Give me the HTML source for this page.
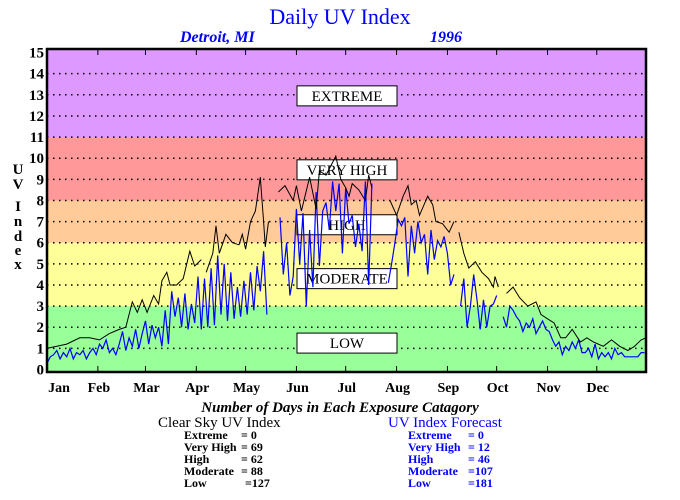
<!DOCTYPE html>
<html><head><meta charset="utf-8"><style>
html,body{margin:0;padding:0;background:#fff;}
svg{display:block;font-family:"Liberation Serif",serif;}
</style></head><body>
<svg id="chart" width="680" height="500" viewBox="0 0 680 500">
<text x="340" y="24" text-anchor="middle" font-size="22" fill="#0000ff">Daily UV Index</text>
<text x="180" y="42" font-size="16" font-weight="bold" font-style="italic" fill="#0000ff">Detroit, MI</text>
<text x="430" y="42" font-size="16" font-weight="bold" font-style="italic" fill="#0000ff">1996</text>
<g id="bands"></g>
<g id="grid"></g>
<g id="labels"></g>
<g id="series"></g>
<g id="axes"></g>
<g font-size="15" font-weight="bold" text-anchor="middle">
<text x="18" y="174">U</text><text x="18" y="189">V</text><text x="18" y="211">I</text><text x="18" y="226">n</text><text x="18" y="241">d</text><text x="18" y="255">e</text><text x="18" y="269">x</text>
</g>
<text x="340" y="412" text-anchor="middle" font-size="15" font-style="italic" font-weight="bold">Number of Days in Each Exposure Catagory</text>
<g>
<text x="158" y="427" font-size="15">Clear Sky UV Index</text>
<g font-size="12" font-weight="bold">
<text x="184" y="439">Extreme</text><text x="241" y="439">=    0</text>
<text x="184" y="451">Very High</text><text x="241" y="451">=  69</text>
<text x="184" y="463">High</text><text x="241" y="463">=  62</text>
<text x="184" y="475">Moderate</text><text x="241" y="475">=  88</text>
<text x="184" y="487">Low</text><text x="245" y="487">=127</text>
</g></g>
<g fill="#0000ff">
<text x="388" y="427" font-size="15">UV Index Forecast</text>
<g font-size="12" font-weight="bold">
<text x="408" y="439">Extreme</text><text x="468" y="439">=    0</text>
<text x="408" y="451">Very High</text><text x="468" y="451">=  12</text>
<text x="408" y="463">High</text><text x="468" y="463">=  46</text>
<text x="408" y="475">Moderate</text><text x="468" y="475">=107</text>
<text x="408" y="487">Low</text><text x="468" y="487">=181</text>
</g></g>
</svg>
<script>
const yTicks = [0,1,2,3,4,5,6,7,8,9,10,11,12,13,14,15];
const monthLabels = ["Jan","Feb","Mar","Apr","May","Jun","Jul","Aug","Sep","Oct","Nov","Dec"];
const monthStartDays = [0,31,60,91,121,152,182,213,244,274,305,335];
const bandNames = ["LOW","MODERATE","HIGH","VERY HIGH","EXTREME"];
const bandLows = [0,3,6,8,11];
const bandHighs = [3,6,8,11,15];
const bandLabelValues = [1.25,4.3,6.85,9.45,12.95];
const clearDays = [0,6,12,20,26,32,38,44,48,52,55,58,61,65,68,70,73,75,79,83,87,90,94,95,97,101,103,105,109,113,117,119,121,124,127,130,132,133,135,136,141,145,150,152,155,160,164,166,170,174,176,179,182,184,186,190,194,196,198,199,209,213,217,220,222,225,227,232,235,237,241,245,248,249,251,254,257,261,265,269,272,273,275,276,280,284,288,293,298,301,305,309,313,316,320,325,329,333,339,344,349,354,358,362,365];
const clearVals = [1.0,1.1,1.2,1.5,1.5,1.4,1.7,1.9,2.0,3.2,2.7,3.3,2.7,3.5,3.1,4.2,4.6,4.0,4.0,4.3,5.6,4.9,5.2,null,4.6,5.5,6.8,5.5,6.4,6.0,5.9,6.4,5.7,7.0,7.5,9.1,7.0,5.8,7.0,null,8.4,8.7,8.0,8.7,7.5,9.1,7.6,9.4,9.2,9.8,10.1,9.0,8.6,8.2,8.8,8.5,8.0,9.2,8.6,null,8.0,7.3,8.2,8.7,7.8,8.0,7.3,8.2,7.8,7.0,6.9,6.5,7.0,null,6.5,5.5,4.8,5.1,4.6,4.3,3.9,4.4,3.9,null,3.6,3.9,3.4,3.0,3.2,2.6,2.4,2.2,1.5,1.5,1.9,1.3,1.5,1.3,1.1,1.4,1.1,0.9,1.1,1.4,1.5];
const forecastVals = [0.3,0.6,0.7,0.9,0.5,0.8,0.6,1.0,0.5,0.8,0.7,0.9,0.5,0.8,1.0,0.7,
1.2,1.0,1.4,0.8,1.0,0.7,1.2,1.8,0.9,1.5,1.1,1.9,1.0,1.7,
2.3,1.2,2.1,1.5,2.0,1.1,2.8,1.2,3.7,2.5,3.4,2.0,3.6,1.9,3.1,2.2,
4.4,1.9,4.3,2.0,4.8,2.1,5.4,2.6,5.0,2.3,4.6,2.4,3.9,2.5,4.2,
2.6,4.6,2.8,4.9,3.7,5.6,2.6,
null,null,null,
7.2,4.5,6.0,3.5,4.4,7.6,5.0,7.4,3.0,6.6,3.9,8.4,4.9,7.5,7.9,6.6,8.9,7.5,8.8,5.5,8.6,6.9,7.3,5.8,6.9,5.6,8.9,4.0,8.8,
null,null,null,null,
4.1,5.0,6.0,7.1,6.8,7.2,4.4,6.8,5.5,7.0,6.0,6.4,4.5,6.6,5.2,6.1,5.8,6.3,5.5,4.0,4.5,
null,
3.0,4.3,2.0,3.0,4.5,3.3,1.9,3.3,2.0,3.0,3.1,3.5,
null,
2.5,2.0,3.0,2.8,2.5,2.3,1.8,2.2,2.0,2.4,1.7,2.0,2.3,1.9,1.8,1.4,1.1,1.3,0.7,1.1,0.9,1.3,1.0,1.4,0.8,0.8,1.0,0.6,1.2,0.5,0.8,0.6,0.8,0.5,1.0,0.7,0.8,0.6,0.6,0.6,0.6,0.6,0.8,0.8];
const bandColors = ["#99ff99","#ffff99","#ffcc99","#ff9999","#dd99ff"];

const NS = "http://www.w3.org/2000/svg";
const X0 = 47, X1 = 646, Y0v = 369.5, PXU = 21.13, BOTTOM = 372, TOP = 49;
function xScale(d){ return X0 + d * (X1 - X0) / 365; }
function yScale(v){ return Y0v - v * PXU; }
function mk(tag, attrs, parent){ const e = document.createElementNS(NS, tag); for (const k in attrs) e.setAttribute(k, attrs[k]); parent.appendChild(e); return e; }

const bands = document.getElementById('bands');
bandLows.forEach((lo, i) => {
  const top = i === bandLows.length - 1 ? TOP : yScale(bandHighs[i]);
  const bot = i === 0 ? BOTTOM : yScale(lo);
  const r = mk('rect', {x: X0, y: top, width: X1 - X0, height: bot - top, fill: bandColors[i]}, bands);
  
  
});

const grid = document.getElementById('grid');
yTicks.forEach(t => {
  if (t > 0 && t < 15) {
    const l = mk('line', {x1: X0, x2: X1, y1: yScale(t), y2: yScale(t), stroke: '#000', 'stroke-width': 1.5, 'stroke-dasharray': '1.5 4.5'}, grid);
    
    
  }
});

const labels = document.getElementById('labels');
bandNames.forEach((n, i) => {
  const cy = yScale(bandLabelValues[i]);
  const r = mk('rect', {x: 297, y: cy - 10, width: 100, height: 20, fill: '#fff', stroke: '#000', 'stroke-width': 1}, labels);
  
  
  const t = mk('text', {x: 347, y: cy + 5, 'text-anchor': 'middle', 'font-size': 15}, labels);
  t.textContent = n;
  
  
});

function buildPath(days, vals){
  let d = '', pen = false;
  for (let i = 0; i < vals.length; i++) {
    if (vals[i] === null) { pen = false; continue; }
    d += (pen ? 'L' : 'M') + xScale(days[i]).toFixed(1) + ' ' + yScale(vals[i]).toFixed(1);
    pen = true;
  }
  return d;
}
const series = document.getElementById('series');
const fDays = forecastVals.map((v, i) => i * 2);
const pf = mk('path', {d: buildPath(fDays, forecastVals), fill: 'none', stroke: '#0000ff', 'stroke-width': 1.2}, series);


const pc = mk('path', {d: buildPath(clearDays, clearVals), fill: 'none', stroke: '#000', 'stroke-width': 1}, series);



const axes = document.getElementById('axes');
const fr = mk('rect', {x: X0, y: TOP, width: X1 - X0, height: BOTTOM - TOP, fill: 'none', stroke: '#000', 'stroke-width': 2.5}, axes);


yTicks.forEach(t => {
  const tx = mk('text', {x: 44, y: yScale(t) + 5, 'text-anchor': 'end', 'font-size': 15, 'font-weight': 'bold'}, axes);
  tx.textContent = String(t);
  
  
});
monthStartDays.forEach((d, i) => {
  const x = xScale(d);
  if (i > 0) {
    const a = mk('line', {x1: x, x2: x, y1: TOP, y2: TOP + 6, stroke: '#000', 'stroke-width': 1}, axes);
    
    
    const b = mk('line', {x1: x, x2: x, y1: BOTTOM - 6, y2: BOTTOM, stroke: '#000', 'stroke-width': 1}, axes);
    
    
  }
  const t = mk('text', {x: x + (i === 0 ? 12 : 1), y: 392, 'text-anchor': 'middle', 'font-size': 14, 'font-weight': 'bold'}, axes);
  t.textContent = monthLabels[i];
  
  
});
</script>
</body></html>
